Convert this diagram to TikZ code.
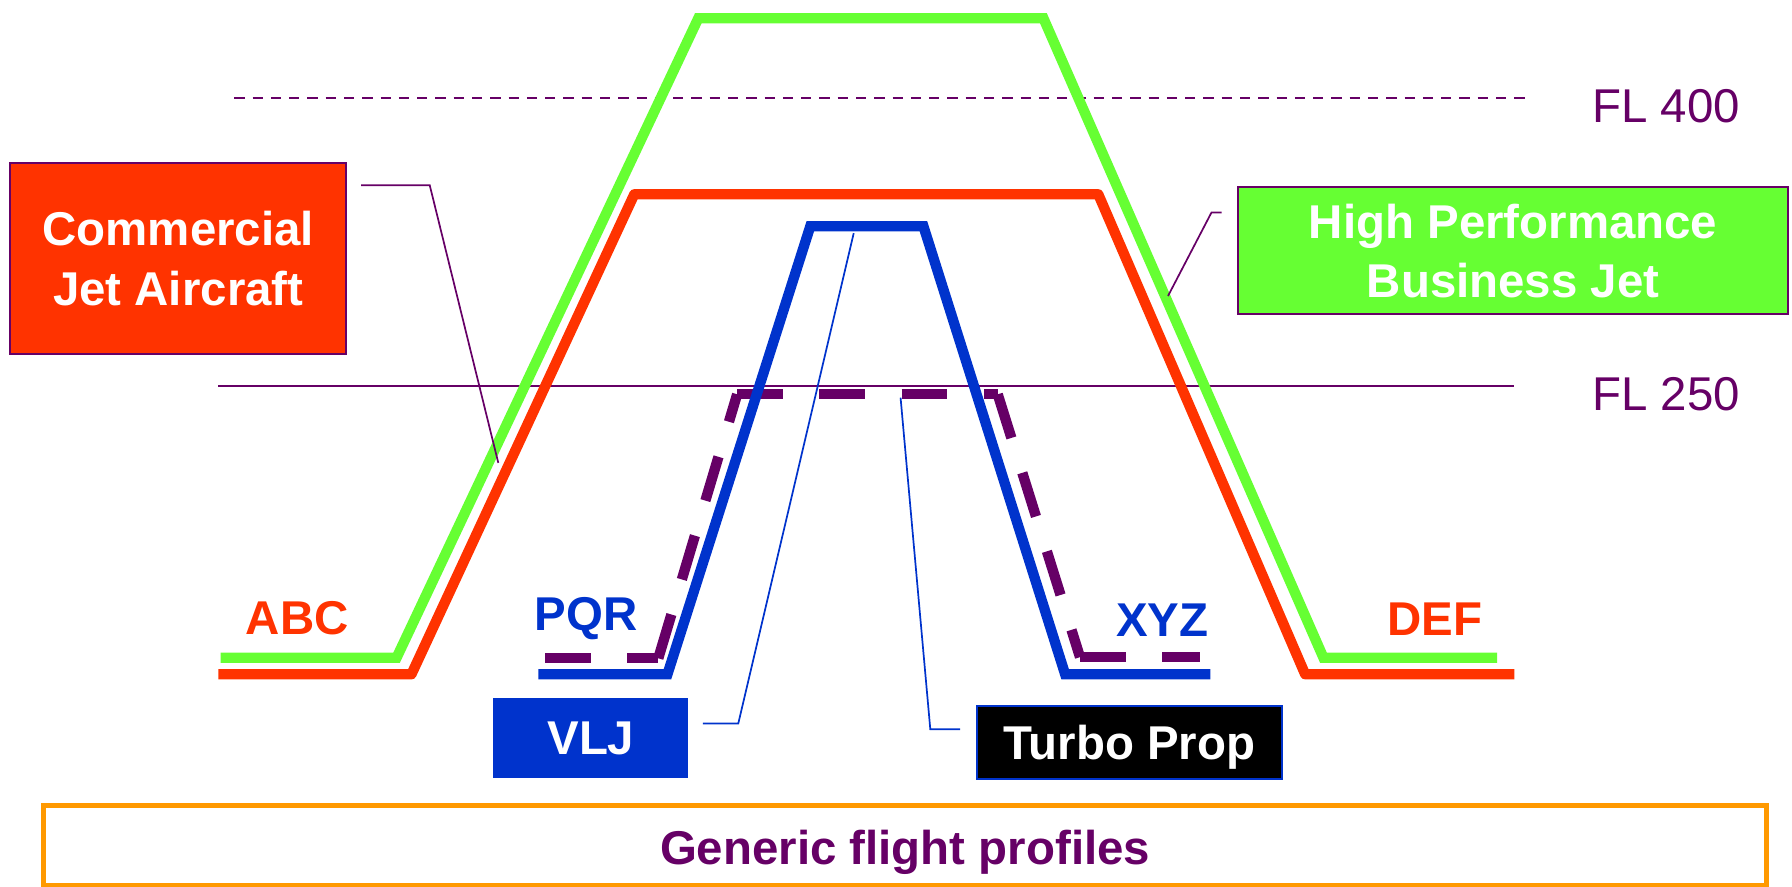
\documentclass[tikz,border=0pt]{standalone}
\usepackage{fontspec}
\setmainfont{Liberation Sans}
\definecolor{fpurple}{HTML}{660066}
\definecolor{fred}{HTML}{FF3300}
\definecolor{fgreen}{HTML}{66FF33}
\definecolor{fblue}{HTML}{0033CC}
\definecolor{forange}{HTML}{FF9900}
\begin{document}
\begin{tikzpicture}[x=1pt,y=-1pt,
  lbl/.style={font=\fontsize{41.5}{52}\selectfont\bfseries, inner sep=0pt},
  flabel/.style={text=fpurple, font=\fontsize{41.5}{52}\selectfont, inner sep=0pt},
  box/.style={line width=1.8pt, text=white, font=\fontsize{41.5}{52}\selectfont\bfseries,
     align=center, inner sep=0pt, text depth=0pt},
  prof/.style={line width=9pt},
  tpdash/.style={line width=9pt, fpurple, dash pattern=on 40pt off 32pt},
  callout/.style={line width=1.5pt}]
\useasboundingbox (0,0) rectangle (1568,776);

% flight levels
\draw[fpurple, line width=1.8pt, dash pattern=on 9pt off 7pt] (205,86) -- (1340,86);
\draw[fpurple, line width=1.6pt] (191,338) -- (1325,338);
\node[flabel] (fl400) at (1458,93) {FL 400};
\node[flabel] (fl250) at (1458,345) {FL 250};

% profiles
\draw[prof, fgreen] (193,575.5) -- (347,575.5) -- (611,16) -- (913,16) -- (1158,575.5) -- (1310,575.5);
\draw[prof, fred, line join=round] (191,590) -- (360,590) -- (555,170) -- (961,170) -- (1142,590) -- (1325,590);
\coordinate (t0) at (477,576); \coordinate (t1) at (576,576); \coordinate (t2) at (645,345);
\coordinate (t3) at (873,345); \coordinate (t4) at (945,575); \coordinate (t5) at (1050,575);
\draw[tpdash] (t0) -- (t1);
\draw[tpdash] (t1) -- (t2);
\draw[tpdash] (t2) -- (t3);
\draw[tpdash] (t3) -- (t4);
\draw[tpdash] (t4) -- (t5);
\draw[prof, fblue] (471,590) -- (584,590) -- (709,198) -- (808,198) -- (932,590) -- (1059,590);

% end labels
\node[lbl, text=fred] (abc) at (260,541) {ABC};
\node[lbl, text=fblue] (pqr) at (513,541) {PQR};
\node[lbl, text=fblue] (xyz) at (1017,542.5) {XYZ};
\node[lbl, text=fred] (def) at (1255.5,541.5) {DEF};

% boxes
\node[box, fill=fred, draw=fpurple, minimum width=294pt, minimum height=167pt] (cja) at (156,226) {Commercial\\Jet Aircraft};
\node[box, fill=fgreen, draw=fpurple, minimum width=481pt, minimum height=111pt] (hpbj) at (1324,219.5) {High Performance\\Business Jet};
\node[box, fill=fblue, draw=fblue, minimum width=169pt, minimum height=68pt] (vlj) at (517,645.5) {VLJ};
\node[box, fill=black, draw=fblue, minimum width=267pt, minimum height=64pt] (tp) at (988,649.5) {Turbo Prop};
\node[line width=4.4pt, draw=forange, fill=white, text=fpurple, font=\fontsize{41.5}{52}\selectfont\bfseries,
      inner sep=0pt, minimum width=1508pt, minimum height=70pt, text height=33pt, text depth=0pt] (gen) at (792,740) {Generic flight profiles};

% callouts
\coordinate (c1a) at (316,162); \coordinate (c1b) at (376,162); \coordinate (c1c) at (436,405);
\draw[callout, fpurple] (c1a) -- (c1b) -- (c1c);
\coordinate (c2a) at (1069,186); \coordinate (c2b) at (1060,186); \coordinate (c2c) at (1022,259);
\draw[callout, fpurple] (c2a) -- (c2b) -- (c2c);
\coordinate (c3a) at (615,633); \coordinate (c3b) at (646,633); \coordinate (c3c) at (747,204);
\draw[callout, fblue] (c3a) -- (c3b) -- (c3c);
\coordinate (c4a) at (840,638); \coordinate (c4b) at (814,638); \coordinate (c4c) at (788,348);
\draw[callout, fblue] (c4a) -- (c4b) -- (c4c);
\end{tikzpicture}
\end{document}
